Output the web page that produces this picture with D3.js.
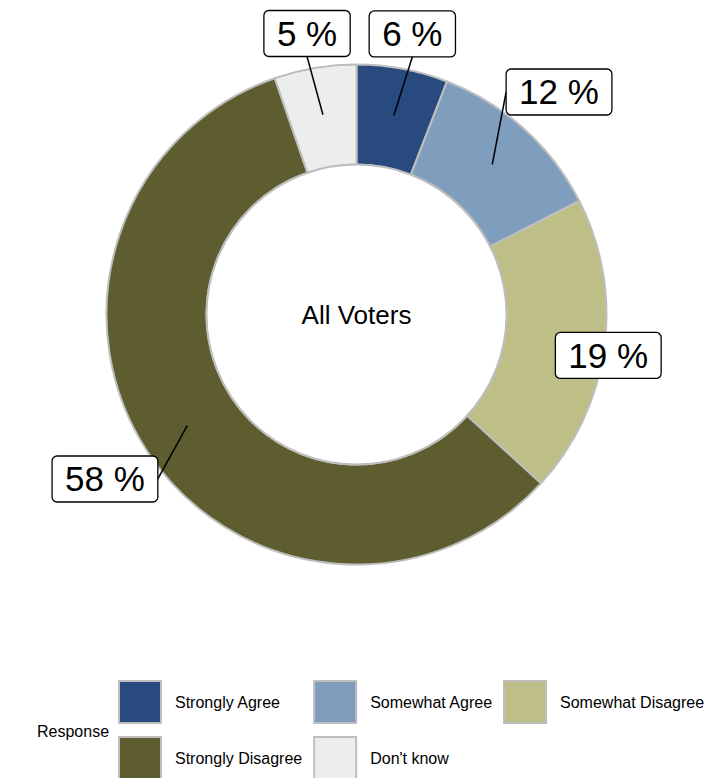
<!DOCTYPE html>
<html>
<head>
<meta charset="utf-8">
<script src="https://cdn.jsdelivr.net/npm/d3@7"></script>
<style>
  html, body { margin: 0; padding: 0; background: #ffffff; }
  svg { display: block; font-family: "Liberation Sans", Arial, Helvetica, sans-serif; }
</style>
</head>
<body>
<svg id="chart" width="704" height="778"></svg>
<script>
// ---- data ----
const categories = ["Strongly Agree", "Somewhat Agree", "Somewhat Disagree", "Strongly Disagree", "Don't know"];
const values = [5.9, 11.6, 19.3, 57.9, 5.3];
const labels = ["6 %", "12 %", "19 %", "58 %", "5 %"];
const colors = ["#284a7e", "#7f9dbd", "#bebe87", "#5d5d2f", "#eceeed"];
const centerTitle = "All Voters";
const legendTitle = "Response";

// ---- layout ----
const W = 704, H = 778;
const cx = 356.5, cy = 314.5;
const rOuter = 250, rInner = 150;
// label nudges (px) from slice centroid, as placed by the label repel
const labelNudge = [[18.5, -81.5], [66.7, -72.3], [51.1, 13.7], [-82.3, 53.3], [-15.9, -81.3]];

const svg = d3.select("#chart");
const g = svg.append("g").attr("transform", `translate(${cx},${cy})`);

const pie = d3.pie().sort(null).value(d => d.value);
const arcs = pie(categories.map((c, i) => ({ cat: c, value: values[i], label: labels[i], color: colors[i], i })));

const arc = d3.arc().innerRadius(rInner).outerRadius(rOuter);
const labelArc = d3.arc().innerRadius(202.5).outerRadius(202.5);

g.selectAll("path.slice").data(arcs).join("path")
  .attr("class", "slice")
  .attr("d", arc)
  .attr("fill", d => d.data.color)
  .attr("stroke", "#bebebe")
  .attr("stroke-width", 2)
  .attr("stroke-linejoin", "round");

// inner circle
g.append("circle").attr("r", rInner).attr("fill", "#ffffff").attr("stroke", "#bebebe").attr("stroke-width", 2);

g.append("text")
  .attr("x", 0).attr("y", 0).attr("dy", "0.36em")
  .attr("text-anchor", "middle")
  .attr("font-size", 26)
  .attr("fill", "#000")
  .text(centerTitle);

// labels
const fs = 35, padX = 13, boxH = 46;
const lab = g.append("g");
arcs.forEach((d, i) => {
  const [px, py] = labelArc.centroid(d);
  const bx = px + labelNudge[i][0], by = py + labelNudge[i][1];
  const grp = lab.append("g");
  const seg = grp.append("line");
  const rect = grp.append("rect");
  const t = grp.append("text")
    .attr("x", bx).attr("y", by).attr("dy", "0.35em")
    .attr("text-anchor", "middle")
    .attr("font-size", fs)
    .attr("fill", "#000")
    .text(d.data.label);
  const tw = t.node().getComputedTextLength();
  const bw = tw + 2 * padX;
  const x0 = bx - bw / 2, y0 = by - boxH / 2, x1 = bx + bw / 2, y1 = by + boxH / 2;
  rect.attr("x", x0).attr("y", y0).attr("width", bw).attr("height", boxH)
    .attr("rx", 5).attr("ry", 5)
    .attr("fill", "#ffffff").attr("stroke", "#000").attr("stroke-width", 1.3);
  const inside = px >= x0 && px <= x1 && py >= y0 && py <= y1;
  if (!inside) {
    const mids = [[bx, y0], [bx, y1], [x0, by], [x1, by]];
    let best = mids[0], bd = Infinity;
    mids.forEach(m => { const dd = Math.hypot(m[0] - px, m[1] - py); if (dd < bd) { bd = dd; best = m; } });
    seg.attr("x1", px).attr("y1", py).attr("x2", best[0]).attr("y2", best[1])
      .attr("stroke", "#000").attr("stroke-width", 1.5);
  } else {
    seg.remove();
  }
});

// legend
const leg = svg.append("g");
leg.append("text").attr("x", 37).attr("y", 731).attr("dy", "0.36em")
  .attr("font-size", 16).attr("fill", "#000").text(legendTitle);

const keyS = 44, rowY = [680, 736], keyToText = 57, colGap = 11, startX = 118;
const nCols = 3;
// measure label widths per column
const meas = svg.append("text").attr("font-size", 16).attr("visibility", "hidden");
const widths = categories.map(c => { meas.text(c); return meas.node().getComputedTextLength(); });
meas.remove();
const colX = [];
let xx = startX;
for (let c = 0; c < nCols; c++) {
  colX.push(xx);
  let mw = 0;
  categories.forEach((cat, i) => { if (i % nCols === c) mw = Math.max(mw, widths[i]); });
  xx += keyToText + mw + colGap;
}
categories.forEach((cat, i) => {
  const c = i % nCols, r = Math.floor(i / nCols);
  const kx = colX[c], ky = rowY[r];
  leg.append("rect").attr("x", kx + 1).attr("y", ky + 1).attr("width", keyS - 2).attr("height", keyS - 2)
    .attr("fill", colors[i]).attr("stroke", "#bebebe").attr("stroke-width", 2);
  leg.append("text").attr("x", kx + keyToText).attr("y", ky + keyS / 2).attr("dy", "0.36em")
    .attr("font-size", 16).attr("fill", "#000").text(cat);
});
</script>
</body>
</html>
